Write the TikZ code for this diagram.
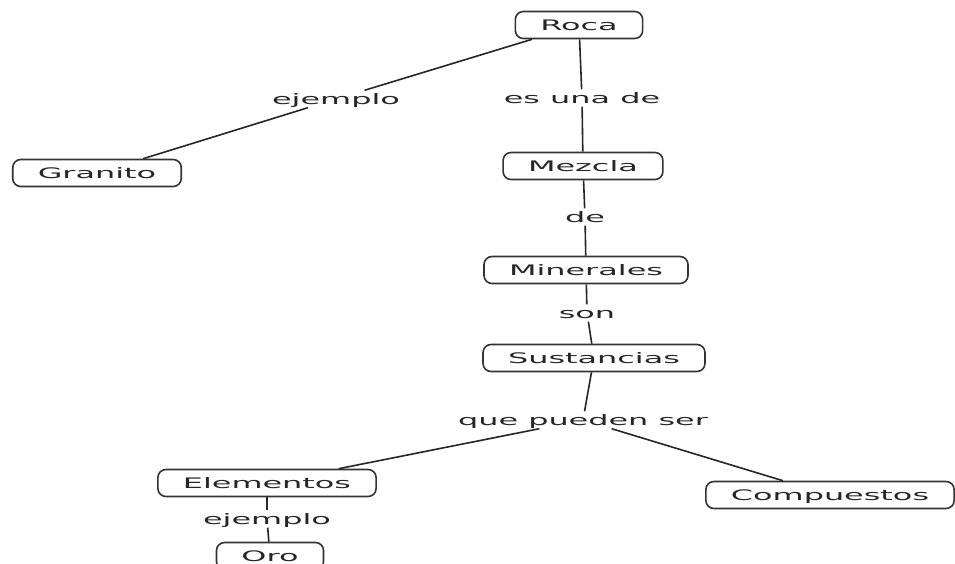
\documentclass[tikz,border=0pt]{standalone}
\usepackage{fontspec}
\setmainfont[FakeStretch=2.2]{DejaVu Sans}
\usetikzlibrary{positioning}

\begin{document}
\begin{tikzpicture}[
    x=1pt, y=-1pt,
    concept/.style={rectangle, draw=black!80, line width=1.6pt, rounded corners=8pt, fill=white, inner xsep=25pt, inner ysep=0pt, minimum height=27pt, text height=11pt, text depth=0pt, text=black!85, font=\fontsize{14.5}{18}\selectfont},
    link/.style={inner sep=3pt, fill=white, text height=11pt, text depth=0pt, text=black!85, font=\fontsize{14.5}{18}\selectfont},
    conn/.style={draw=black!85, line width=1.6pt}
]
\clip (0,0) rectangle (955,564);

% Concepts
\node[concept] (roca) at (579,25) {Roca};
\node[concept] (granito) at (97,173) {Granito};
\node[concept] (mezcla) at (583,166) {Mezcla};
\node[concept] (minerales) at (586,270) {Minerales};
\node[concept] (sustancias) at (594,358) {Sustancias};
\node[concept] (elementos) at (267,483) {Elementos};
\node[concept] (compuestos) at (830,495) {Compuestos};
\node[concept] (oro) at (270,556) {Oro};

% Link phrases
\node[link] (ejemploA) at (336,99) {ejemplo};
\node[link] (esuna) at (582,98) {es una de};
\node[link] (de) at (585,217) {de};
\node[link] (son) at (587,313) {son};
\node[link] (pueden) at (583,420) {que pueden ser};
\node[link] (ejemploB) at (267,519) {ejemplo};

% Connectors
\draw[conn] (roca) -- (ejemploA);
\draw[conn] (ejemploA) -- (granito);
\draw[conn] (roca) -- (esuna);
\draw[conn] (esuna) -- (mezcla);
\draw[conn] (mezcla) -- (de);
\draw[conn] (de) -- (minerales);
\draw[conn] (minerales) -- (son);
\draw[conn] (son) -- (sustancias);
\draw[conn] (sustancias) -- (pueden);
\draw[conn] (pueden) -- (elementos);
\draw[conn] (pueden) -- (compuestos);
\draw[conn] (elementos) -- (ejemploB);
\draw[conn] (ejemploB) -- (oro);

\end{tikzpicture}
\end{document}
